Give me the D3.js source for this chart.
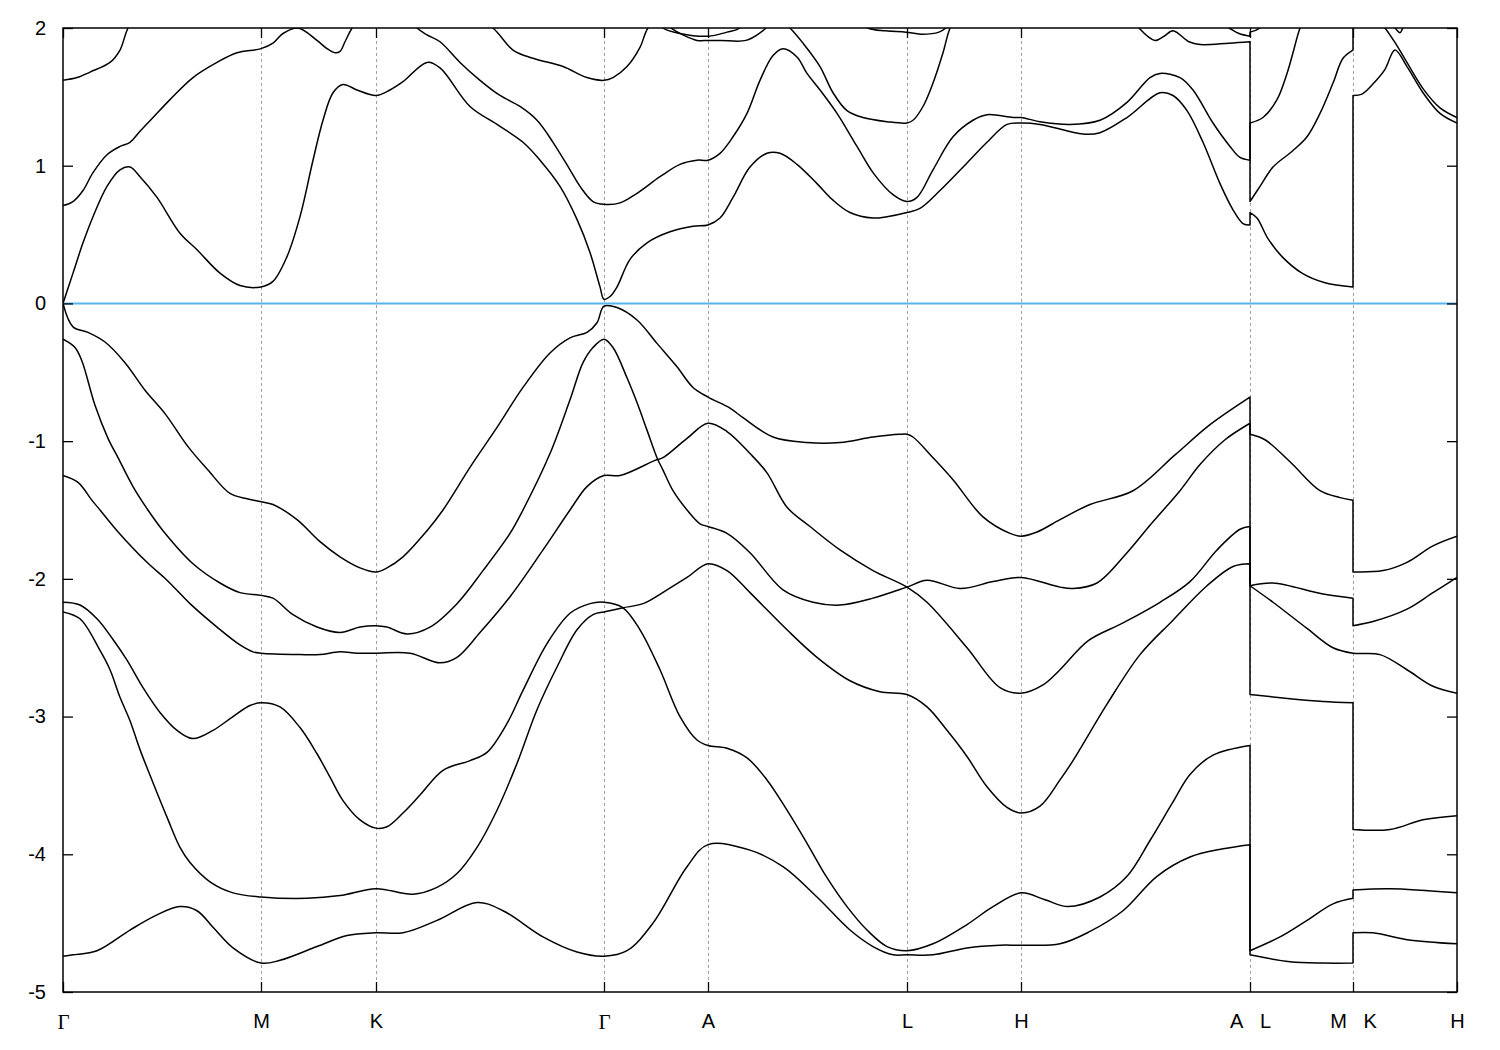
<!DOCTYPE html>
<html><head><meta charset="utf-8">
<script src="https://cdn.jsdelivr.net/npm/d3@7"></script>
<style>
body{margin:0;background:#fff;}
svg{display:block;}
</style></head>
<body>
<svg id="chart" width="1500" height="1050"></svg>
<script>
// k-path positions (arbitrary path-length units) of the high-symmetry points
const kTicks = [0, 198, 313, 541, 645, 844, 958, 1187, 1290, 1394];
const kLabels = ["Γ", "M", "K", "Γ", "A", "L", "H", "A\u00A0\u00A0\u00A0L", "M\u00A0\u00A0\u00A0K", "H"];
const eTicks = [-5, -4, -3, -2, -1, 0, 1, 2];
const kRange = [0, 1394];
const eRange = [-5, 2];

// bands: [k, E(eV)]; a repeated k marks a path discontinuity (A|L, M|K)
const bandV6 = [
[0,-4.74],[10,-4.73],[34,-4.70],[67,-4.55],[94,-4.44],[117,-4.38],[134,-4.41],[150,-4.53],[170,-4.68],[198,-4.79],
[217,-4.77],[254,-4.67],[284,-4.59],[313,-4.57],
[340,-4.57],[374,-4.48],[414,-4.35],[440,-4.41],[480,-4.60],[514,-4.71],[541,-4.74],
[564,-4.70],[590,-4.50],[624,-4.09],[645,-3.93],
[687,-3.97],[720,-4.09],[754,-4.31],[787,-4.55],[810,-4.67],[830,-4.73],[844,-4.73],
[870,-4.73],[904,-4.68],[937,-4.66],[958,-4.66],
[997,-4.65],[1027,-4.56],[1060,-4.41],[1094,-4.16],[1127,-4.02],[1160,-3.96],[1187,-3.93],
[1187,-4.73],[1227,-4.78],[1260,-4.79],[1290,-4.79],
[1290,-4.57],[1310,-4.57],[1344,-4.62],[1394,-4.65]
];
const bandV5 = [
[0,-2.17],[17,-2.19],[34,-2.29],[50,-2.44],[64,-2.59],[80,-2.79],[97,-2.97],[114,-3.10],[130,-3.16],[150,-3.10],[170,-3.00],[187,-2.92],[198,-2.90],
[217,-2.93],[237,-3.08],[254,-3.27],[267,-3.44],[280,-3.61],[297,-3.75],[313,-3.81],
[324,-3.80],[340,-3.70],[357,-3.57],[380,-3.39],[407,-3.32],[424,-3.26],[444,-3.05],[460,-2.81],[484,-2.47],[507,-2.25],[527,-2.18],[541,-2.17],
[560,-2.21],[577,-2.37],[597,-2.66],[617,-3.00],[634,-3.17],[645,-3.21],
[664,-3.23],[684,-3.30],[704,-3.46],[724,-3.68],[744,-3.92],[764,-4.17],[784,-4.38],[804,-4.55],[824,-4.67],[844,-4.70],
[870,-4.65],[904,-4.51],[930,-4.38],[958,-4.28],
[982,-4.33],[1005,-4.38],[1037,-4.31],[1064,-4.16],[1087,-3.90],[1110,-3.62],[1127,-3.42],[1150,-3.28],[1187,-3.21],
[1187,-4.70],[1217,-4.60],[1244,-4.48],[1270,-4.36],[1290,-4.32],
[1290,-4.26],[1327,-4.25],[1394,-4.28]
];
const bandV4 = [
[0,-2.24],[17,-2.29],[37,-2.52],[47,-2.66],[57,-2.86],[67,-3.03],[77,-3.24],[90,-3.48],[104,-3.73],[117,-3.95],[127,-4.06],[147,-4.20],[170,-4.28],[198,-4.31],
[244,-4.32],[277,-4.30],[313,-4.25],
[350,-4.29],[374,-4.24],[394,-4.14],[414,-3.95],[434,-3.68],[454,-3.34],[474,-2.95],[494,-2.64],[514,-2.37],[530,-2.26],[541,-2.24],
[560,-2.21],[580,-2.18],[604,-2.08],[624,-1.99],[645,-1.89],
[664,-1.94],[687,-2.10],[724,-2.37],[754,-2.57],[787,-2.74],[817,-2.82],[844,-2.84],
[864,-2.93],[884,-3.10],[904,-3.29],[924,-3.51],[944,-3.66],[958,-3.70],
[977,-3.65],[997,-3.46],[1010,-3.32],[1044,-2.91],[1077,-2.55],[1110,-2.30],[1144,-2.05],[1170,-1.91],[1187,-1.89],
[1187,-2.84],[1227,-2.87],[1260,-2.89],[1290,-2.90],
[1290,-3.82],[1327,-3.82],[1360,-3.75],[1394,-3.72]
];
const bandV3 = [
[0,-1.25],[15,-1.30],[29,-1.43],[37,-1.50],[54,-1.65],[84,-1.88],[104,-2.01],[127,-2.18],[154,-2.35],[177,-2.48],[190,-2.53],[198,-2.54],
[237,-2.55],[257,-2.55],[277,-2.53],[294,-2.54],[313,-2.54],
[347,-2.54],[377,-2.61],[394,-2.57],[417,-2.39],[447,-2.13],[480,-1.79],[507,-1.50],[524,-1.33],[541,-1.25],
[557,-1.25],[592,-1.14],[600,-1.12],[624,-0.98],[645,-0.87],
[664,-0.93],[687,-1.09],[704,-1.23],[724,-1.48],[747,-1.62],[777,-1.79],[810,-1.94],[844,-2.06],
[864,-2.17],[904,-2.50],[937,-2.79],[958,-2.83],
[980,-2.77],[997,-2.66],[1025,-2.45],[1060,-2.32],[1097,-2.17],[1127,-2.02],[1154,-1.79],[1177,-1.64],[1187,-1.62],
[1187,-2.05],[1210,-2.17],[1244,-2.36],[1270,-2.50],[1290,-2.54],
[1317,-2.55],[1344,-2.66],[1370,-2.78],[1394,-2.83]
];
const bandV2 = [
[0,-0.26],[12,-0.32],[19,-0.42],[32,-0.74],[45,-0.98],[55,-1.12],[70,-1.33],[84,-1.49],[100,-1.65],[130,-1.89],[157,-2.03],[177,-2.10],[198,-2.12],
[210,-2.14],[230,-2.26],[254,-2.35],[277,-2.39],[297,-2.35],[313,-2.34],
[324,-2.35],[344,-2.40],[367,-2.35],[394,-2.18],[420,-1.94],[447,-1.67],[460,-1.50],[487,-1.09],[507,-0.70],[520,-0.43],[530,-0.32],[541,-0.26],
[550,-0.32],[564,-0.54],[574,-0.72],[584,-0.92],[594,-1.12],[600,-1.21],[610,-1.36],[624,-1.50],[637,-1.60],[645,-1.62],
[664,-1.67],[687,-1.81],[720,-2.08],[750,-2.17],[777,-2.19],[810,-2.14],[844,-2.06],
[864,-2.01],[897,-2.07],[930,-2.02],[958,-1.99],
[997,-2.06],[1010,-2.07],[1034,-2.03],[1064,-1.81],[1087,-1.61],[1117,-1.36],[1137,-1.17],[1162,-0.99],[1187,-0.87],
[1187,-2.05],[1210,-2.03],[1260,-2.11],[1290,-2.14],
[1290,-2.34],[1310,-2.31],[1344,-2.22],[1370,-2.10],[1394,-1.99]
];
const bandV1 = [
[0,0.00],[10,-0.17],[25,-0.21],[42,-0.28],[62,-0.43],[82,-0.63],[102,-0.80],[125,-1.04],[145,-1.21],[167,-1.38],[185,-1.42],[198,-1.44],
[210,-1.46],[234,-1.57],[257,-1.73],[277,-1.84],[297,-1.92],[313,-1.95],
[324,-1.92],[340,-1.84],[364,-1.65],[380,-1.50],[407,-1.19],[434,-0.90],[460,-0.61],[487,-0.36],[507,-0.25],[524,-0.21],[534,-0.14],[541,-0.02],
[554,-0.03],[574,-0.12],[594,-0.29],[614,-0.46],[630,-0.61],[645,-0.68],
[667,-0.76],[680,-0.83],[710,-0.97],[744,-1.01],[777,-1.01],[810,-0.97],[837,-0.95],[844,-0.95],
[850,-0.97],[870,-1.12],[890,-1.28],[920,-1.55],[947,-1.67],[958,-1.69],
[974,-1.66],[997,-1.57],[1027,-1.46],[1070,-1.36],[1112,-1.10],[1147,-0.88],[1187,-0.68],
[1187,-0.95],[1202,-0.99],[1227,-1.15],[1257,-1.36],[1277,-1.41],[1290,-1.43],
[1290,-1.95],[1320,-1.94],[1344,-1.88],[1370,-1.76],[1394,-1.69]
];
const bandC1 = [
[0,0.00],[10,0.22],[20,0.44],[30,0.63],[44,0.85],[57,0.97],[67,0.99],[77,0.92],[94,0.77],[117,0.51],[134,0.39],[157,0.22],[177,0.13],[198,0.12],
[210,0.16],[224,0.34],[237,0.63],[250,1.04],[260,1.33],[270,1.53],[280,1.59],[294,1.55],[313,1.51],
[327,1.55],[340,1.61],[364,1.75],[377,1.71],[407,1.43],[434,1.30],[460,1.17],[477,1.04],[497,0.85],[514,0.61],[527,0.37],[537,0.12],[541,0.03],
[547,0.05],[554,0.12],[567,0.32],[584,0.44],[607,0.52],[630,0.56],[645,0.57],
[657,0.62],[670,0.77],[687,0.99],[704,1.09],[717,1.09],[734,1.01],[754,0.87],[770,0.75],[787,0.66],[810,0.62],[824,0.63],[844,0.66],
[857,0.69],[877,0.82],[904,1.02],[924,1.17],[944,1.30],[958,1.31],
[977,1.30],[1020,1.23],[1037,1.24],[1064,1.35],[1097,1.53],[1110,1.51],[1124,1.40],[1140,1.17],[1157,0.87],[1170,0.68],[1180,0.58],[1187,0.57],
[1187,0.66],[1194,0.62],[1205,0.47],[1219,0.34],[1239,0.22],[1262,0.15],[1290,0.12],
[1290,1.51],[1299,1.52],[1312,1.61],[1322,1.70],[1332,1.84],[1344,1.72],[1360,1.53],[1377,1.38],[1394,1.31]
];
const bandC2 = [
[0,0.71],[10,0.74],[20,0.82],[30,0.95],[44,1.08],[57,1.14],[67,1.17],[77,1.25],[90,1.35],[107,1.48],[130,1.64],[154,1.75],[174,1.82],[198,1.85],
[210,1.89],[220,1.96],[235,2.00],[254,1.91],[264,1.85],[272,1.82],[277,1.83],[282,1.90],[289,2.00],[313,2.25],
[337,2.15],[354,2.00],[364,1.95],[377,1.90],[397,1.75],[417,1.62],[437,1.51],[457,1.43],[474,1.33],[490,1.17],[507,0.97],[517,0.85],[530,0.74],[541,0.72],
[557,0.73],[574,0.80],[597,0.92],[617,1.01],[634,1.04],[645,1.04],
[657,1.09],[670,1.21],[684,1.38],[697,1.62],[710,1.80],[720,1.85],[734,1.79],[744,1.67],[757,1.55],[774,1.38],[794,1.14],[810,0.95],[830,0.79],[844,0.74],
[854,0.77],[870,0.97],[890,1.21],[910,1.33],[924,1.37],[950,1.35],[958,1.35],
[977,1.32],[1007,1.30],[1037,1.33],[1064,1.46],[1087,1.64],[1097,1.67],[1117,1.64],[1130,1.55],[1150,1.31],[1167,1.14],[1177,1.06],[1187,1.04],
[1187,1.31],[1200,1.35],[1214,1.48],[1224,1.67],[1230,1.82],[1237,2.00],[1260,2.40],[1290,2.60],
[1290,2.45],[1320,2.10],[1332,2.00],[1337,1.965],[1340,2.00],[1360,2.15],[1394,2.30]
];
const bandC3 = [
[0,1.62],[14,1.64],[27,1.68],[47,1.75],[57,1.84],[65,2.00],[90,2.30],[198,2.65],[313,2.45],[400,2.15],[430,2.00],
[450,1.84],[470,1.78],[500,1.72],[524,1.64],[541,1.62],
[550,1.64],[564,1.72],[577,1.86],[585,2.00],[595,2.06],[604,2.03],[610,1.99],[634,1.91],[645,1.91],
[658,1.91],[683,1.91],[698,1.97],[703,2.00],[715,2.08],[727,2.00],[740,1.89],[757,1.72],[770,1.53],[784,1.40],[800,1.35],[824,1.32],[844,1.31],
[850,1.33],[860,1.43],[870,1.60],[880,1.82],[887,2.00],[910,2.35],[958,2.60],[1040,2.40],[1076,2.00],
[1092,1.91],[1101,1.94],[1110,1.98],[1126,1.90],[1137,1.88],[1166,1.89],[1187,1.90],
[1187,0.74],[1197,0.85],[1210,0.99],[1230,1.11],[1244,1.21],[1257,1.38],[1270,1.60],[1280,1.78],[1290,1.84],
[1290,2.30],[1307,2.12],[1322,2.00],[1335,1.86],[1360,1.56],[1377,1.42],[1394,1.35]
];
const bandC4 = [
[0,2.40],[198,2.90],[313,2.80],[541,2.50],[590,2.10],[600,2.00],[617,1.96],[645,1.94],
[664,1.97],[677,2.00],[700,2.20],[780,2.15],[805,2.00],[823,1.98],[843,1.97],[858,1.955],[876,1.97],[883,2.00],[910,2.20],[958,2.50],
[1140,2.10],[1166,2.00],[1176,1.96],[1187,1.94],
[1187,1.97],[1197,2.00],[1230,2.30],[1290,2.60],
[1290,2.70],[1394,2.50]
];
const bands = [bandV6, bandV5, bandV4, bandV3, bandV2, bandV1, bandC1, bandC2, bandC3, bandC4];

const svg = d3.select("#chart");
const x = d3.scaleLinear().domain(kRange).range([63, 1457]);
const y = d3.scaleLinear().domain(eRange).range([992, 28]);
const FONT = "'Liberation Sans', Arial, Helvetica, sans-serif";

svg.append("rect").attr("width",1500).attr("height",1050).attr("fill","#fff");

svg.append("defs").append("clipPath").attr("id","plotclip")
  .append("rect")
  .attr("x", x(kRange[0])).attr("y", y(eRange[1]))
  .attr("width", x(kRange[1]) - x(kRange[0]))
  .attr("height", y(eRange[0]) - y(eRange[1]));

// dashed vertical grid at interior high-symmetry points
svg.append("g").selectAll("line").data(kTicks.slice(1, -1)).join("line")
  .attr("x1", d => x(d)).attr("x2", d => x(d))
  .attr("y1", y(eRange[0])).attr("y2", y(eRange[1]))
  .attr("stroke", "#a0a0a0").attr("stroke-width", 1)
  .attr("stroke-dasharray", "3,3").attr("shape-rendering","crispEdges");

// bands
const lineGen = d3.line().x(d => x(d[0])).y(d => y(d[1])).curve(d3.curveCatmullRom.alpha(0.5));
function bandPath(b) {
  const pieces = [];
  let cur = [b[0]];
  for (let i = 1; i < b.length; i++) {
    if (b[i][0] === b[i-1][0]) { pieces.push(cur); cur = [b[i]]; }
    else cur.push(b[i]);
  }
  pieces.push(cur);
  return pieces.map((p, i) => {
    const s = lineGen(p);
    return i === 0 ? s : "L" + s.slice(1);
  }).join("");
}
svg.append("g").attr("clip-path","url(#plotclip)")
  .selectAll("path").data(bands).join("path")
  .attr("d", bandPath)
  .attr("fill","none").attr("stroke","#000").attr("stroke-width",1.5)
  .attr("stroke-linejoin","round");

// Fermi level
svg.append("line")
  .attr("x1", x(kRange[0])).attr("x2", x(kRange[1]))
  .attr("y1", y(0)).attr("y2", y(0))
  .attr("stroke", "#56b4e9").attr("stroke-width", 2);

// axes
const gB = svg.append("g").attr("transform", `translate(0,${y(eRange[0])})`)
  .call(d3.axisBottom(x).tickValues(kTicks).tickSize(-10).tickPadding(22).tickFormat((d,i) => kLabels[i]));
const gT = svg.append("g").attr("transform", `translate(0,${y(eRange[1])})`)
  .call(d3.axisTop(x).tickValues(kTicks).tickSize(-10).tickFormat(""));
const gL = svg.append("g").attr("transform", `translate(${x(kRange[0])},0)`)
  .call(d3.axisLeft(y).tickValues(eTicks).tickSize(-10).tickPadding(17).tickFormat(d => String(d)));
const gR = svg.append("g").attr("transform", `translate(${x(kRange[1])},0)`)
  .call(d3.axisRight(y).tickValues(eTicks).tickSize(-10).tickFormat(""));
[gB, gT, gL, gR].forEach(g => {
  g.select(".domain").remove();
  g.selectAll(".tick line").attr("stroke","#000").attr("stroke-width",1.3);
  g.selectAll("text").attr("fill","#000").style("font-family", FONT).style("font-size","20px");
});
gB.selectAll("text").filter(d => false);
gB.selectAll(".tick text").each(function(d, i) {
  if (kLabels[i] === "Γ") d3.select(this).style("font-family","'Liberation Serif','DejaVu Serif',serif").style("font-size","21px");
});

// border
svg.append("rect")
  .attr("x", x(kRange[0])).attr("y", y(eRange[1]))
  .attr("width", x(kRange[1]) - x(kRange[0]))
  .attr("height", y(eRange[0]) - y(eRange[1]))
  .attr("fill","none").attr("stroke","#000").attr("stroke-width",1.5);
</script>
</body></html>
